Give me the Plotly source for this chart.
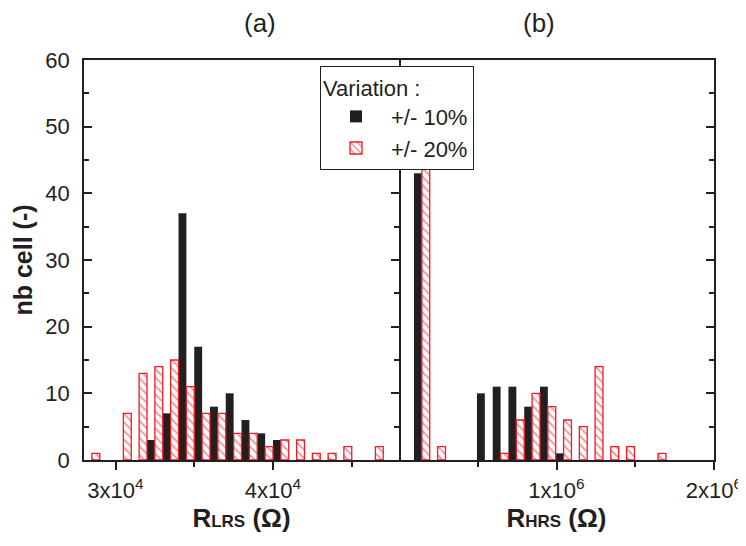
import plotly.graph_objects as go

# ---- data ----
lrs_bins = [29000, 30000, 31000, 32000, 33000, 34000, 35000, 36000, 37000, 38000,
            39000, 40000, 41000, 42000, 43000, 44000, 45000, 46000, 47000]
lrs_var10 = [0, 0, 0, 3, 7, 37, 17, 8, 10, 6, 4, 3, 0, 0, 0, 0, 0, 0, 0]
lrs_var20 = [1, 0, 7, 13, 14, 15, 11, 7, 7, 4, 4, 2, 3, 3, 1, 1, 2, 0, 2]

hrs_bins = [145000, 245000, 345000, 445000, 545000, 645000, 745000, 845000,
            945000, 1045000, 1145000, 1245000, 1345000, 1445000, 1545000, 1645000]
hrs_var10 = [43, 0, 0, 0, 10, 11, 11, 8, 11, 1, 0, 0, 0, 0, 0, 0]
hrs_var20 = [44, 2, 0, 0, 0, 1, 6, 10, 8, 6, 5, 14, 2, 2, 0, 1]

lrs_tickvals = [30000, 40000]
lrs_ticktext = ["3x10<sup>4</sup>", "4x10<sup>4</sup>"]
hrs_tickvals = [1000000, 2000000]
hrs_ticktext = ["1x10<sup>6</sup>", "2x10<sup>6</sup>"]

name10 = "+/- 10%"
name20 = "+/- 20%"

BLACK = "#231f20"
RED = "#ec1c24"
FONT = "Arial, Liberation Sans, sans-serif"


def nonzero(values):
    # empty bins are not drawn at all
    return [v if v > 0 else None for v in values]


fig = go.Figure()

pattern = dict(shape="\\", fgcolor=RED, bgcolor="white", size=6, solidity=0.3)
red_marker = dict(color="white", pattern=pattern, line=dict(color=RED, width=1.3))
black_marker = dict(color=BLACK, line=dict(width=0))

# left panel
fig.add_trace(go.Bar(x=lrs_bins, y=nonzero(lrs_var10), width=500, offset=0,
                     marker=black_marker, name=name10, legendgroup="10",
                     xaxis="x", yaxis="y"))
fig.add_trace(go.Bar(x=lrs_bins, y=nonzero(lrs_var20), width=500, offset=-500,
                     marker=red_marker, name=name20, legendgroup="20",
                     xaxis="x", yaxis="y"))
# right panel
fig.add_trace(go.Bar(x=hrs_bins, y=nonzero(hrs_var10), width=50000, offset=-50000,
                     marker=black_marker, name=name10, legendgroup="10",
                     showlegend=False, xaxis="x2", yaxis="y2"))
fig.add_trace(go.Bar(x=hrs_bins, y=nonzero(hrs_var20), width=50000, offset=0,
                     marker=red_marker, name=name20, legendgroup="20",
                     showlegend=False, xaxis="x2", yaxis="y2"))

common = dict(showgrid=False, zeroline=False, tickcolor=BLACK, tickwidth=1.5,
              automargin=False)
axline = dict(showline=True, linecolor=BLACK, linewidth=1.5, **common)
tickfont = dict(family=FONT, size=22, color=BLACK)
titlefont = dict(family=FONT, size=26, color=BLACK)
yminor = dict(dtick=5, ticks="inside", ticklen=5, tickcolor=BLACK, tickwidth=1.5)

fig.update_layout(
    width=738, height=538,
    margin=dict(l=76, r=32, t=52, b=86),
    paper_bgcolor="white", plot_bgcolor="white",
    barmode="overlay",
    font=dict(family=FONT, color=BLACK),
    xaxis=dict(domain=[0, 0.5], range=[28000, 48000], anchor="y",
               tickvals=lrs_tickvals, ticktext=lrs_ticktext, ticks="outside",
               ticklen=8, mirror=True, tickfont=tickfont, ticklabelstandoff=2,
               minor=dict(tickvals=[35000, 45000], ticks="outside", ticklen=5,
                          tickcolor=BLACK, tickwidth=1.5),
               title=dict(text="<b>R<span style='font-size:17px'>LRS</span> (Ω)</b>",
                          font=titlefont, standoff=6),
               **axline),
    xaxis2=dict(domain=[0.5, 1], range=[0, 2000000], anchor="y2",
                tickvals=hrs_tickvals, ticktext=hrs_ticktext, ticks="outside",
                ticklen=8, mirror=True, tickfont=tickfont, ticklabelstandoff=2,
                minor=dict(tickvals=[500000, 1500000], ticks="outside", ticklen=5,
                           tickcolor=BLACK, tickwidth=1.5),
                title=dict(text="<b>R<span style='font-size:17px'>HRS</span> (Ω)</b>",
                           font=titlefont, standoff=6),
                **axline),
    xaxis3=dict(overlaying="x", side="top", anchor="y", range=[28000, 48000],
                tickvals=[30000, 35000, 40000, 45000], ticks="inside", ticklen=6,
                showticklabels=False, showline=False, **common),
    xaxis4=dict(overlaying="x2", side="top", anchor="y2", range=[0, 2000000],
                tickvals=[500000, 1000000, 1500000], ticks="inside", ticklen=6,
                showticklabels=False, showline=False, **common),
    yaxis=dict(domain=[0, 1], range=[0, 60], anchor="x", dtick=10, ticks="inside",
               ticklen=8, mirror="ticks", tickfont=tickfont, ticklabelstandoff=8,
               minor=yminor,
               title=dict(text="<b>nb cell (-)</b>", font=dict(family=FONT, size=25,
                                                               color=BLACK),
                          standoff=6),
               **axline),
    # right panel: frame line with inside ticks on its right edge
    yaxis2=dict(domain=[0, 1], range=[0, 60], anchor="x2", side="right", dtick=10,
                ticks="inside", ticklen=8, mirror=False, showticklabels=False,
                minor=yminor, **axline),
    # ... and inside ticks on the shared divider (its line is the left panel's)
    yaxis3=dict(overlaying="y2", side="left", anchor="x2", range=[0, 60], dtick=10,
                ticks="inside", ticklen=8, showticklabels=False, minor=yminor,
                showline=False, **common),
    legend=dict(x=0.3746, y=0.985, xanchor="left", yanchor="top",
                bgcolor="white", bordercolor=BLACK, borderwidth=1,
                font=dict(family=FONT, size=22, color=BLACK),
                title=dict(text="Variation :", font=dict(family=FONT, size=22,
                                                         color=BLACK)),
                itemwidth=60, tracegroupgap=0),
    showlegend=True,
    annotations=[
        dict(text="(a)", x=0.25, y=1, xref="paper", yref="paper", yanchor="bottom",
             yshift=20, showarrow=False, font=dict(family=FONT, size=26, color=BLACK)),
        dict(text="(b)", x=0.75, y=1, xref="paper", yref="paper", yanchor="bottom",
             yshift=20, showarrow=False, font=dict(family=FONT, size=26, color=BLACK)),
    ],
)

fig.write_html("out.html")
